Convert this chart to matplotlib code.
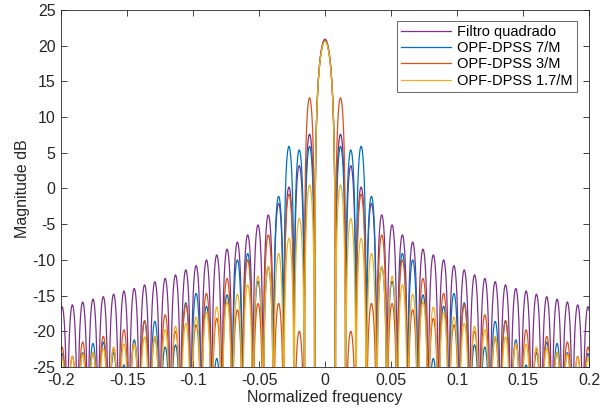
import numpy as np
import matplotlib
matplotlib.use('Agg')
import matplotlib.pyplot as plt

plt.rcParams['font.family'] = ['Liberation Sans', 'DejaVu Sans']
plt.rcParams['axes.unicode_minus'] = False

# lobe width (spacing of nulls)
lobe_width = 1 / 128

# peak of each lobe in dB, index 0 = main lobe, 1..25 = side lobes going outward
# (spectra are symmetric, the left half is the mirror)
quadrado = [20.9, 7.6, 3.2, 0.2, -2.1, -3.7, -5.1, -6.5, -7.5, -8.5, -9.3,
            -10.0, -10.8, -11.4, -12.1, -12.6, -13.05, -13.5, -14.0, -14.35, -14.8,
            -15.15, -15.5, -15.9, -16.3, -16.55]
dpss_7 = [20.7, 5.9, 5.4, 5.9, -1.1, -11.0, -13.0, -9.1, -10.0, -14.9, -23.8,
          -16.5, -14.7, -16.0, -21.9, -22.2, -18.6, -18.5, -21.2, -24.7, -23.0,
          -21.5, -21.7, -23.0, -25.5, -23.1]
dpss_3 = [20.7, 12.7, -20.0, -0.8, -16.1, -6.5, -16.1, -10.0, -17.0, -12.6, -18.2,
          -14.7, -19.1, -16.3, -20.0, -17.7, -21.0, -18.6, -21.7, -19.8, -22.5,
          -20.7, -23.0, -21.5, -23.5, -22.2]
dpss_17 = [20.6, 0.5, -4.2, -7.0, -9.1, -10.9, -12.3, -13.5, -14.8, -15.9, -16.6,
           -17.4, -18.0, -18.9, -19.3, -19.8, -20.7, -20.8, -21.7, -21.8, -22.2,
           -22.4, -22.9, -23.2, -23.6, -23.8]

labels = ['Filtro quadrado', 'OPF-DPSS 7/M', 'OPF-DPSS 3/M', 'OPF-DPSS 1.7/M']
colors = ['#7E2F8E', '#0072BD', '#D95319', '#EDB120']

x_ticks = [-0.2, -0.15, -0.1, -0.05, 0, 0.05, 0.1, 0.15, 0.2]
x_tick_labels = ['-0.2', '-0.15', '-0.1', '-0.05', '0', '0.05', '0.1', '0.15', '0.2']
y_ticks = [-25, -20, -15, -10, -5, 0, 5, 10, 15, 20, 25]


def arch(lo, hi, peak, n=60):
    t = np.linspace(0, 1, n)
    s = np.clip(np.sin(np.pi * t), 1e-5, None)
    return lo + (hi - lo) * t, peak + 20 * np.log10(s)


def build_curve(peaks):
    xs, ys = [], []
    # left side lobes (mirror), outermost first
    for k in range(len(peaks) - 1, 0, -1):
        x, y = arch(-(k + 1) * lobe_width, -k * lobe_width, peaks[k])
        xs.append(x)
        ys.append(y)
    x, y = arch(-lobe_width, lobe_width, peaks[0], n=120)
    xs.append(x)
    ys.append(y)
    for k in range(1, len(peaks)):
        x, y = arch(k * lobe_width, (k + 1) * lobe_width, peaks[k])
        xs.append(x)
        ys.append(y)
    return np.concatenate(xs), np.concatenate(ys)


fig = plt.figure(figsize=(6.0, 4.13), dpi=100)
ax = fig.add_axes([0.1017, 0.1114, 0.88, 0.8644])

for peaks, label, color in zip([quadrado, dpss_7, dpss_3, dpss_17], labels, colors):
    x, y = build_curve(peaks)
    ax.plot(x, y, color=color, lw=0.9, label=label)

ax.set_xlim(-0.2, 0.2)
ax.set_ylim(-25, 25)
ax.set_xticks(x_ticks)
ax.set_xticklabels(x_tick_labels)
ax.set_yticks(y_ticks)
ax.tick_params(direction='in', top=True, right=True, length=4, width=0.6,
               labelsize=11.5, colors='#262626', pad=4)
for sp in ax.spines.values():
    sp.set_linewidth(0.6)
    sp.set_color('#262626')

ax.set_xlabel('Normalized frequency', fontsize=11.5, color='#262626', labelpad=2)
ax.set_ylabel('Magnitude dB', fontsize=11.5, color='#262626', labelpad=2)

leg = ax.legend(loc='upper right', bbox_to_anchor=(0.977, 0.970), borderaxespad=0,
                fontsize=10.5, frameon=True, fancybox=False, edgecolor='#262626',
                handlelength=3.4, handletextpad=0.4, labelspacing=0.15,
                borderpad=0.3)
leg.get_frame().set_linewidth(0.6)

fig.savefig('out.png', dpi=100)
